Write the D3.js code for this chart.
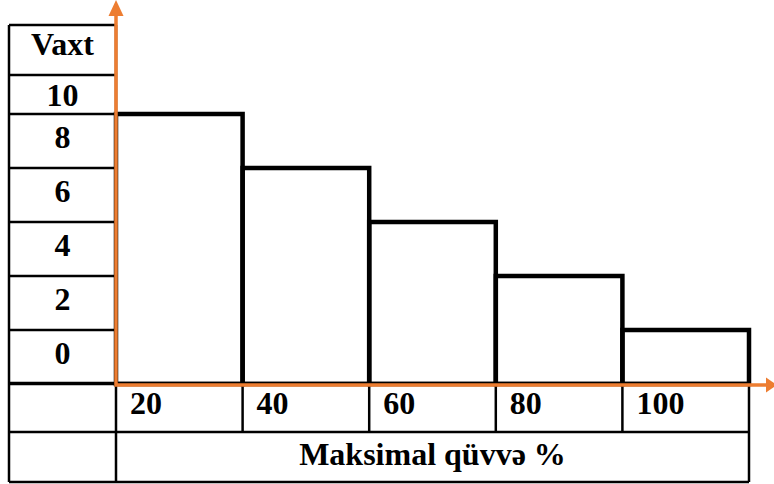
<!DOCTYPE html>
<html>
<head>
<meta charset="utf-8">
<script src="https://cdn.jsdelivr.net/npm/d3@7"></script>
<style>
  body { margin: 0; background: #fff; }
  text { font-family: "Liberation Serif", "Times New Roman", serif; font-weight: bold; font-size: 32px; fill: #000; }
</style>
</head>
<body>
<script>
// data
var categories = ["20", "40", "60", "80", "100"];
var values = [10, 8, 6, 4, 2];
var yTicks = [0, 2, 4, 6, 8, 10];
var yTitle = "Vaxt";
var xTitle = "Maksimal qüvvə %";

// layout
var w = 774, h = 484;
var tableLeft = 9, axisX = 116, right = 749;
var baseY = 384;
var headTop = 25, topRowTop = 75;
var catBottom = 432, tableBottom = 482;
var orange = "#ED7D31";

var xScale = d3.scaleBand().domain(categories).range([axisX, right]).padding(0);
var yScale = d3.scaleLinear().domain([0, 10]).range([baseY, 114]);

var svg = d3.select("body").append("svg").attr("width", w).attr("height", h);

// table grid lines
var grid = svg.append("g").attr("stroke", "#000").attr("stroke-width", 2.5).attr("fill", "none");

// left column rows
var rowLines = yTicks.map(function (t) { return yScale(t); }).concat([topRowTop, headTop]);
grid.selectAll("line.row").data(rowLines).enter().append("line")
  .attr("x1", tableLeft).attr("x2", axisX)
  .attr("y1", function (d) { return d; }).attr("y2", function (d) { return d; });

grid.append("line").attr("x1", tableLeft).attr("x2", tableLeft).attr("y1", headTop).attr("y2", tableBottom);
grid.append("line").attr("x1", axisX).attr("x2", axisX).attr("y1", headTop).attr("y2", tableBottom);

// bottom rows
[baseY - 1, catBottom, tableBottom].forEach(function (y) {
  grid.append("line").attr("x1", tableLeft).attr("x2", right).attr("y1", y).attr("y2", y);
});
grid.append("line").attr("x1", right).attr("x2", right).attr("y1", baseY).attr("y2", tableBottom);
grid.selectAll("line.sep").data(categories.slice(1)).enter().append("line")
  .attr("x1", function (d) { return xScale(d); }).attr("x2", function (d) { return xScale(d); })
  .attr("y1", baseY).attr("y2", catBottom);

// bars
svg.selectAll("rect.bar").data(values).enter().append("rect")
  .attr("class", "bar")
  .attr("x", function (d, i) { return xScale(categories[i]); })
  .attr("y", function (d) { return yScale(d); })
  .attr("width", xScale.bandwidth())
  .attr("height", function (d) { return baseY - yScale(d); })
  .attr("fill", "none")
  .attr("stroke", "#000")
  .attr("stroke-width", 4.5);

// orange axes with arrows
svg.append("path")
  .attr("d", "M" + axisX + ",14 V" + (baseY + 1) + " H768")
  .attr("fill", "none").attr("stroke", orange).attr("stroke-width", 3.5);
svg.append("path")
  .attr("d", "M" + axisX + ",0 L" + (axisX + 7.5) + ",16 L" + (axisX - 7.5) + ",16 Z")
  .attr("fill", orange);
svg.append("path")
  .attr("d", "M777," + (baseY + 1) + " L766," + (baseY - 6.5) + " L766," + (baseY + 8.5) + " Z")
  .attr("fill", orange);

// y labels
var colMid = (tableLeft + axisX) / 2;
svg.append("text").attr("x", colMid).attr("y", headTop + 30).attr("text-anchor", "middle").text(yTitle);
svg.selectAll("text.ytick").data(yTicks).enter().append("text")
  .attr("x", colMid)
  .attr("y", function (t) { return t < 10 ? yScale(t + 2) + 34 : topRowTop + 31; })
  .attr("text-anchor", "middle")
  .text(function (t) { return t; });

// x labels
svg.selectAll("text.xtick").data(categories).enter().append("text")
  .attr("x", function (d) { return xScale(d) + 14; })
  .attr("y", 414)
  .text(function (d) { return d; });

svg.append("text").attr("x", (axisX + right) / 2).attr("y", 465).attr("text-anchor", "middle").text(xTitle);
</script>
</body>
</html>
